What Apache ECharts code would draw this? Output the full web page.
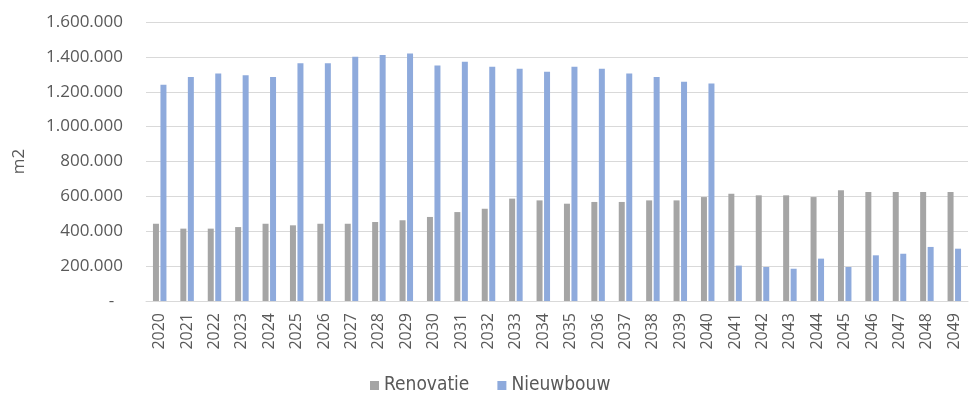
<!DOCTYPE html>
<html>
<head>
<meta charset="utf-8">
<script src="https://cdn.jsdelivr.net/npm/echarts@6/dist/echarts.min.js"></script>
<style>
  html, body { margin: 0; padding: 0; background: #ffffff; }
  #chart { width: 974px; height: 396px; }
</style>
</head>
<body>
<div id="chart"></div>
<script>
// Floor area per year (m2): renovation vs. new construction
const years = ['2020','2021','2022','2023','2024','2025','2026','2027','2028','2029',
               '2030','2031','2032','2033','2034','2035','2036','2037','2038','2039',
               '2040','2041','2042','2043','2044','2045','2046','2047','2048','2049'];

const renovatie = [443000, 415000, 415000, 424000, 443000, 434000, 443000, 443000, 453000, 463000,
                   482000, 510000, 529000, 587000, 577000, 558000, 568000, 568000, 577000, 577000,
                   596000, 615000, 606000, 606000, 596000, 635000, 625000, 625000, 625000, 625000];

const nieuwbouw = [1240000, 1285000, 1305000, 1294000, 1284000, 1363000, 1363000, 1401000, 1411000, 1420000,
                   1351000, 1372000, 1343000, 1332000, 1315000, 1343000, 1332000, 1305000, 1284000, 1257000,
                   1248000, 203000, 195000, 185000, 243000, 195000, 262000, 271000, 310000, 300000];

const yTicks = { min: 0, max: 1600000, step: 200000 };

// Dutch number style: dots as thousands separators, zero shown as a dash
function formatNl(v) {
  if (v === 0) return '-\u00a0\u00a0';
  return String(Math.round(v)).replace(/\B(?=(\d{3})+(?!\d))/g, '.');
}

const textGrey = '#595959';
const gridGrey = '#d9d9d9';

const chart = echarts.init(document.getElementById('chart'), null, { renderer: 'canvas' });
chart.setOption({
  animation: false,
  backgroundColor: '#ffffff',
  grid: { left: 146, right: 6, top: 22, bottom: 95, containLabel: false },
  legend: {
    data: ['Renovatie', 'Nieuwbouw'],
    left: 370,
    top: 376,
    padding: 0,
    itemWidth: 9,
    itemHeight: 9,
    itemGap: 28,
    icon: 'rect',
    textStyle: { color: textGrey, fontSize: 19, fontFamily: '"Liberation Sans Narrow", "DejaVu Sans Condensed", sans-serif' }
  },
  xAxis: {
    type: 'category',
    data: years,
    axisTick: { show: false },
    axisLine: { lineStyle: { color: gridGrey, width: 1 } },
    axisLabel: {
      rotate: 90,
      interval: 0,
      margin: 12,
      color: textGrey,
      fontSize: 16,
      fontFamily: '"Open Sans", sans-serif'
    }
  },
  yAxis: {
    type: 'value',
    min: yTicks.min,
    max: yTicks.max,
    interval: yTicks.step,
    name: 'm2',
    nameLocation: 'middle',
    nameGap: 118,
    nameRotate: 90,
    nameTextStyle: { color: textGrey, fontSize: 17, fontFamily: '"Open Sans", sans-serif' },
    axisLine: { show: false },
    axisTick: { show: false },
    splitLine: { lineStyle: { color: gridGrey, width: 1 } },
    axisLabel: {
      margin: 23,
      color: textGrey,
      fontSize: 17,
      fontFamily: '"Open Sans", sans-serif',
      formatter: formatNl
    }
  },
  series: [
    {
      name: 'Renovatie',
      type: 'bar',
      data: renovatie,
      barWidth: 6,
      barGap: '25%',
      itemStyle: { color: '#a5a5a5' }
    },
    {
      name: 'Nieuwbouw',
      type: 'bar',
      data: nieuwbouw,
      barWidth: 6,
      barGap: '25%',
      itemStyle: { color: '#8eaadc' }
    }
  ]
});
</script>
</body>
</html>
